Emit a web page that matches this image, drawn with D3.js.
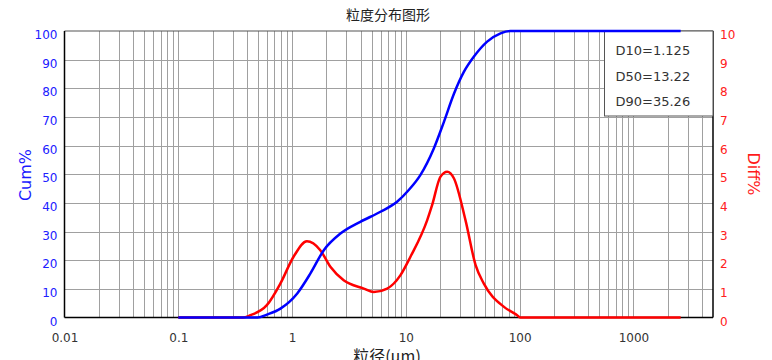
<!DOCTYPE html>
<html>
<head>
<meta charset="utf-8">
<script src="https://cdn.jsdelivr.net/npm/d3@7"></script>
<style>
  body { margin: 0; background: #fff; }
  svg text { font-family: "DejaVu Sans", sans-serif; }
</style>
</head>
<body>
<svg id="chart" width="772" height="360"></svg>
<script>
// particle size distribution, cumulative + differential

let cumSizes  = [0.1, 0.5, 0.6, 0.79, 1.11, 1.45, 1.9, 2.66, 3.98, 5.98, 8.37, 10.6, 13.4, 17.6, 21.6, 26.4, 32.4, 39.5, 51.8, 67.9, 83, 2600];
let cumValues = [0, 0, 1.0, 3.1, 8.4, 15.4, 23.5, 29.3, 33.4, 36.9, 40.4, 44.5, 49.7, 59.0, 68.3, 78.0, 85.8, 91.0, 96.3, 99.2, 100, 100];

let diffSizes  = [0.1, 0.37, 0.43, 0.6, 0.79, 1.03, 1.35, 1.77, 2.17, 2.84, 4.27, 5.22, 6.85, 8.97, 10.97, 15.4, 17, 20.1, 23.1, 26.4, 33.4, 41, 48.3, 72.8, 95, 101, 2600];
let diffValues = [0, 0, 0.08, 0.43, 1.19, 2.12, 2.66, 2.35, 1.77, 1.30, 1.01, 0.89, 1.01, 1.48, 2.12, 3.4, 3.92, 4.91, 5.09, 4.86, 3.4, 1.83, 1.19, 0.37, 0.08, 0, 0];

let xTickLabels = [0.01, 0.1, 1, 10, 100, 1000];
let cumTicks  = [0, 10, 20, 30, 40, 50, 60, 70, 80, 90, 100];
let diffTicks = [0, 1, 2, 3, 4, 5, 6, 7, 8, 9, 10];
let legendLines = ["D10=1.125", "D50=13.22", "D90=35.26"];

let graphicopt = {
    left: 64.5, right: 713, top: 31, bottom: 317.5
};

let svg = d3.select('#chart');

let x = d3.scaleLog().domain([0.01, 5000]).range([graphicopt.left, graphicopt.right]);
let y = d3.scaleLinear().domain([0, 100]).range([graphicopt.bottom, graphicopt.top]);
let yR = d3.scaleLinear().domain([0, 10]).range([graphicopt.bottom, graphicopt.top]);

// grid
let grid = svg.append('g').attr('class', 'grid');
grid.selectAll('.vline').data(x.ticks().filter(d => d > 0.01 && d < 5000))
    .enter().append('line')
    .attr('x1', d => Math.round(x(d)) + 0.5).attr('x2', d => Math.round(x(d)) + 0.5)
    .attr('y1', graphicopt.top).attr('y2', graphicopt.bottom)
    .style('stroke', '#a0a0a0').style('stroke-width', 1);
grid.selectAll('.hline').data(cumTicks.slice(1, -1))
    .enter().append('line')
    .attr('x1', graphicopt.left).attr('x2', graphicopt.right)
    .attr('y1', d => Math.round(y(d)) + 0.5).attr('y2', d => Math.round(y(d)) + 0.5)
    .style('stroke', '#a0a0a0').style('stroke-width', 1);

// frame
svg.append('line').attr('x1', graphicopt.left).attr('x2', graphicopt.right)
    .attr('y1', graphicopt.top).attr('y2', graphicopt.top)
    .style('stroke', '#555').style('stroke-width', 1.2);
svg.append('line').attr('x1', graphicopt.left).attr('x2', graphicopt.right)
    .attr('y1', graphicopt.bottom).attr('y2', graphicopt.bottom)
    .style('stroke', '#000').style('stroke-width', 1.5);
svg.append('line').attr('x1', graphicopt.left).attr('x2', graphicopt.left)
    .attr('y1', graphicopt.top).attr('y2', graphicopt.bottom)
    .style('stroke', '#000').style('stroke-width', 1.5);
svg.append('line').attr('x1', graphicopt.right).attr('x2', graphicopt.right)
    .attr('y1', graphicopt.top).attr('y2', graphicopt.bottom)
    .style('stroke', '#000').style('stroke-width', 1.5);

// legend box (curves go over it)
let legend = svg.append('g');
legend.append('rect')
    .attr('x', 604.5).attr('y', graphicopt.top)
    .attr('width', graphicopt.right - 604.5).attr('height', 85)
    .style('fill', '#fff').style('stroke', '#555').style('stroke-width', 1);
legend.selectAll('text').data(legendLines).enter().append('text')
    .attr('x', 615.5).attr('y', (d, i) => 55 + i * 25.5)
    .style('font-size', '13px').style('fill', '#333')
    .text(d => d);

// axes text
let xAxis = d3.axisBottom(x).tickValues(xTickLabels).tickSize(0).tickPadding(0)
    .tickFormat(d => String(d));
let gx = svg.append('g').attr('transform', 'translate(0,' + graphicopt.bottom + ')').call(xAxis);
gx.select('.domain').remove();
gx.selectAll('text').attr('dy', null).attr('y', 24)
    .style('font-size', '12px').style('fill', '#333').style('font-family', '"DejaVu Sans", sans-serif');

let yAxis = d3.axisLeft(y).tickValues(cumTicks).tickSize(0).tickPadding(0);
let gy = svg.append('g').attr('transform', 'translate(' + 57.5 + ',0)').call(yAxis);
gy.select('.domain').remove();
gy.selectAll('text').attr('dy', null).attr('y', 7.5).attr('x', 0)
    .style('font-size', '12px').style('fill', '#2020ff').style('font-family', '"DejaVu Sans", sans-serif');

let yAxisR = d3.axisRight(yR).tickValues(diffTicks).tickSize(0).tickPadding(0);
let gyR = svg.append('g').attr('transform', 'translate(' + 720 + ',0)').call(yAxisR);
gyR.select('.domain').remove();
gyR.selectAll('text').attr('dy', null).attr('y', 7.5).attr('x', 0)
    .style('font-size', '12px').style('fill', '#ff2020').style('font-family', '"DejaVu Sans", sans-serif');

// curves
let diffLine = d3.line()
    .x((d, i) => x(diffSizes[i]))
    .y(d => yR(d))
    .curve(d3.curveMonotoneX);
let cumLine = d3.line()
    .x((d, i) => x(cumSizes[i]))
    .y(d => y(Math.min(d, 100)))
    .curve(d3.curveMonotoneX);

svg.append('path').datum(diffValues)
    .attr('d', diffLine)
    .style('fill', 'none').style('stroke', '#ff0000').style('stroke-width', 2.5);
svg.append('path').datum(cumValues)
    .attr('d', cumLine)
    .style('fill', 'none').style('stroke', '#0000ff').style('stroke-width', 2.5)
    .style('stroke-linejoin', 'round');

// titles
svg.append('text').attr('x', 388).attr('y', 20).attr('text-anchor', 'middle')
    .style('font-family', '"Noto Sans CJK SC", sans-serif').style('font-size', '14px').style('fill', '#222')
    .text('粒度分布图形');
svg.append('text').attr('x', 387).attr('y', 362).attr('text-anchor', 'middle')
    .style('font-family', '"Noto Sans CJK SC", sans-serif').style('font-size', '16px').style('fill', '#222')
    .text('粒径(μm)');
svg.append('text').attr('transform', 'translate(31,175) rotate(-90)').attr('text-anchor', 'middle')
    .style('font-size', '16px').style('fill', '#1a1aff')
    .text('Cum%');
svg.append('text').attr('transform', 'translate(748,174) rotate(90)').attr('text-anchor', 'middle')
    .style('font-size', '16px').style('fill', '#ff1a1a')
    .text('Diff%');
</script>
</body>
</html>
